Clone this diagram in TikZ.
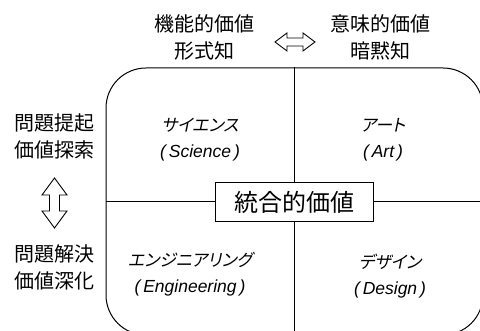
\documentclass[tikz,border=0pt]{standalone}
\usepackage{fontspec}
\newfontfamily\jp{Noto Sans CJK JP}
\newfontfamily\jpit[FakeSlant=0.2,RawFeature=+palt]{Noto Sans CJK JP}
\newfontfamily\latit{Liberation Sans}[ItalicFont={Liberation Sans Italic},UprightFont={Liberation Sans Italic}]
\newcommand{\lat}[1]{{\latit\fontsize{17.5}{26}\selectfont(\,#1\,)}}
\begin{document}
\begin{tikzpicture}[x=1pt,y=-1pt,line width=1pt,
  lbl/.style={align=center,inner sep=0pt,font=\jp\fontsize{20}{27}\selectfont},
  quad/.style={align=center,inner sep=0pt,font=\jpit\fontsize{17}{26}\selectfont},
  hollow/.style={draw,line width=0.9pt,line join=miter}]
\clip (0,0) rectangle (480,331);
\node[draw,rounded corners=40pt,minimum width=377pt,minimum height=267pt,inner sep=0pt] (frame) at (294.5,201.5) {};
\node[draw,fill=white,minimum width=158pt,minimum height=39pt,inner sep=0pt,font=\jp\fontsize{24}{28}\selectfont] (core) at (294,202) {統合的価値};
\draw (frame.north -| core) -- (core.north);
\draw (core.south) -- (frame.south -| core);
\draw (frame.west |- core) -- (core.west);
\draw (core.east) -- (frame.east |- core);
\node[lbl] (fv) at (204,37.5) {機能的価値\\形式知};
\node[lbl] (mv) at (380,37.5) {意味的価値\\暗黙知};
\node[lbl] (pq) at (55,136) {問題提起\\価値探索};
\node[lbl] (pd) at (55,267.5) {問題解決\\価値深化};
% hollow double arrows
\draw[hollow] (275,42) -- (287,33) -- (287,38) -- (303,38) -- (303,33) -- (315,42)
  -- (303,51) -- (303,46) -- (287,46) -- (287,51) -- cycle;
\draw[hollow] (54.5,178) -- (67,195) -- (59.5,195) -- (59.5,211) -- (67,211) -- (54.5,228)
  -- (42,211) -- (49.5,211) -- (49.5,195) -- (42,195) -- cycle;
\node[quad] (sci) at (200,140) {サイエンス\\\lat{Science}};
\node[quad] (art) at (383,140) {アート\\\lat{Art}};
\node[quad] (eng) at (190,274.5) {エンジニアリング\\\lat{Engineering}};
\node[quad] (des) at (390,276.5) {デザイン\\\lat{Design}};
\end{tikzpicture}
\end{document}
